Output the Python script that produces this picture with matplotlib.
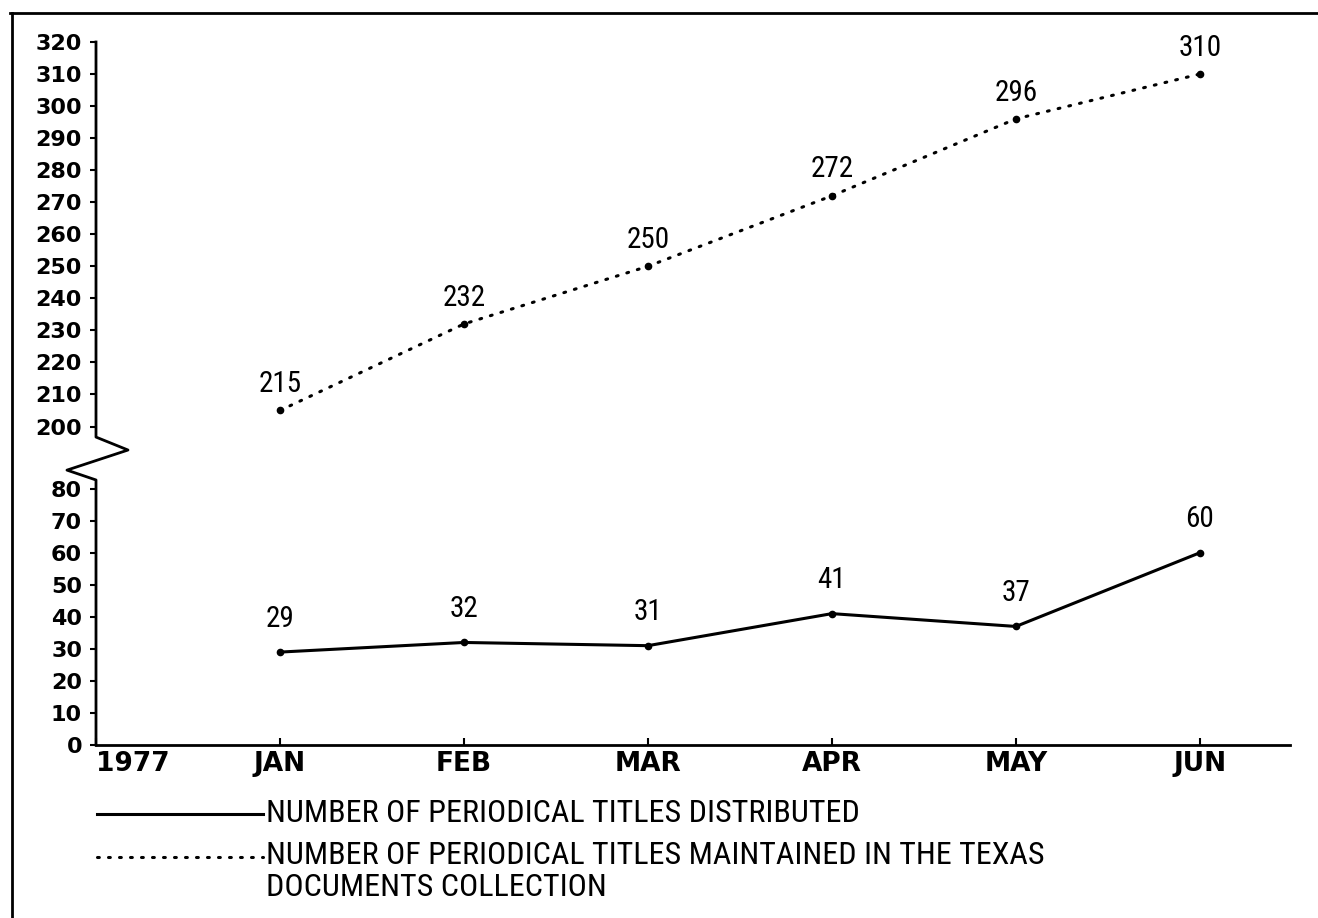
import matplotlib
matplotlib.use("Agg")
import matplotlib.pyplot as plt
from matplotlib.lines import Line2D
import numpy as np

# x categories
months = ["1977", "JAN", "FEB", "MAR", "APR", "MAY", "JUN"]
month_pos = np.arange(1, 7)

# periodical titles distributed
distributed = [29, 32, 31, 41, 37, 60]
# titles maintained in the Texas documents collection (point as drawn / label as printed)
maintained = [205, 232, 250, 272, 296, 310]
maintained_labels = ["215", "232", "250", "272", "296", "310"]

yticks_low = list(range(0, 90, 10))
yticks_high = list(range(200, 330, 10))

LOW_TOP = 80.0
HIGH_START = 200.0
GAP = 19.4  # how much axis room the break takes


def fwd(v):
    v = np.asarray(v, dtype=float)
    mid = LOW_TOP + (v - LOW_TOP) * GAP / (HIGH_START - LOW_TOP)
    return np.where(v <= LOW_TOP, v, np.where(v >= HIGH_START, v - HIGH_START + LOW_TOP + GAP, mid))


def inv(u):
    u = np.asarray(u, dtype=float)
    mid = LOW_TOP + (u - LOW_TOP) * (HIGH_START - LOW_TOP) / GAP
    return np.where(u <= LOW_TOP, u, np.where(u >= LOW_TOP + GAP, u + HIGH_START - LOW_TOP - GAP, mid))


narrow = ["Roboto Condensed", "Liberation Sans Narrow", "DejaVu Sans"]

fig = plt.figure(figsize=(13.18, 9.18), dpi=100)
ax = fig.add_axes([96 / 1318, 1 - 745 / 918, (1290 - 96) / 1318, (745 - 42) / 918])
ax.set_yscale("function", functions=(fwd, inv))
ax.set_ylim(0, 320)
ax.set_xlim(0, 6.49)

ax.plot(month_pos, distributed, color="black", lw=2.2, marker="o", ms=4.5)
ax.plot(month_pos, maintained, color="black", lw=2.2, ls=(0, (0.6, 3.0)),
        dash_capstyle="round", marker="o", ms=4.5)

for x, v in zip(month_pos, distributed):
    ax.annotate(str(v), (x, v), xytext=(0, 24), textcoords="offset points",
                ha="center", va="center", fontsize=21, family=narrow)
for x, v, lab in zip(month_pos, maintained, maintained_labels):
    ax.annotate(lab, (x, v), xytext=(0, 19), textcoords="offset points",
                ha="center", va="center", fontsize=21, family=narrow)

# axes look
for s in ["top", "right", "left"]:
    ax.spines[s].set_visible(False)
ax.spines["bottom"].set_linewidth(2)

# left axis with the zigzag break
ax.plot([0, 0, 0.0268, -0.0243, 0, 0], [1, 0.438, 0.4196, 0.391, 0.377, 0],
        transform=ax.transAxes, color="black", lw=2, clip_on=False)

ax.set_yticks(yticks_low + yticks_high)
ax.set_yticklabels([str(t) for t in yticks_low + yticks_high],
                   fontsize=16, fontweight="bold")
ax.yaxis.set_minor_locator(matplotlib.ticker.NullLocator())
ax.tick_params(axis="y", direction="out", length=4, width=1.5, pad=6)

ax.set_xticks(np.arange(0, 7))
ax.set_xticklabels(months, fontsize=19, fontweight="bold")
ax.get_xticklabels()[0].set_ha("left")
ax.tick_params(axis="x", direction="in", length=5, width=1.5, pad=4)

# page border
fig.add_artist(Line2D([10 / 1318, 1], [1 - 13 / 918, 1 - 13 / 918], color="black", lw=2))
fig.add_artist(Line2D([12 / 1318, 12 / 1318], [1 - 13 / 918, 0], color="black", lw=2))

# legend
fig.add_artist(Line2D([97 / 1318, 263 / 1318], [1 - 814 / 918] * 2, color="black", lw=2.2))
fig.add_artist(Line2D([97 / 1318, 263 / 1318], [1 - 857 / 918] * 2, color="black", lw=2.2,
                      ls=(0, (0.6, 3.0)), dash_capstyle="round"))
fig.text(266 / 1318, 1 - 813 / 918, "NUMBER OF PERIODICAL TITLES DISTRIBUTED",
         va="center", ha="left", fontsize=23, family=narrow)
fig.text(266 / 1318, 1 - 856 / 918,
         "NUMBER OF PERIODICAL TITLES MAINTAINED IN THE TEXAS",
         va="center", ha="left", fontsize=23, family=narrow)
fig.text(266 / 1318, 1 - 887 / 918, "DOCUMENTS COLLECTION",
         va="center", ha="left", fontsize=23, family=narrow)

fig.savefig("out.png", dpi=100)
